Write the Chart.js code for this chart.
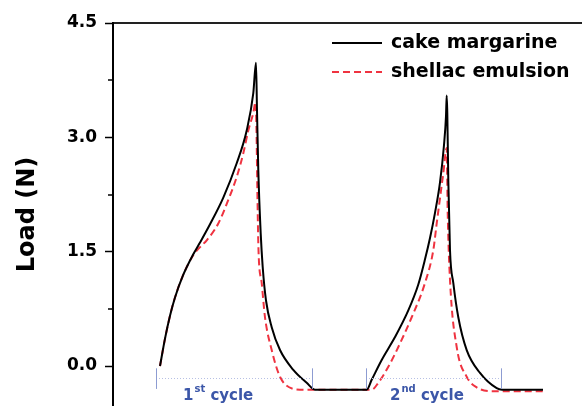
<!DOCTYPE html>
<html>
<head>
<meta charset="utf-8">
<script src="https://cdn.jsdelivr.net/npm/chart.js@4.4.0/dist/chart.umd.min.js"></script>
<style>
  html, body { margin: 0; padding: 0; background: #fff; }
  #wrap { width: 582px; height: 406px; position: relative; }
</style>
</head>
<body>
<div id="wrap"><canvas id="load-chart"></canvas></div>
<script>
// time axis is hidden in the figure, units are arbitrary
const timeMargarine = [4.70, 5.20, 5.70, 6.20, 7.00, 8.00, 8.70, 9.70, 11.03, 12.37, 13.37, 14.03, 14.30,
    14.40, 14.53, 14.77, 14.97, 15.30, 15.87, 16.70, 18.03, 19.37, 20.20, 22.70, 25.37,
    25.87, 26.87, 28.20, 29.53, 30.53, 31.20, 31.70, 32.20, 32.70, 33.10, 33.30, 33.37,
    33.43, 33.53, 33.70, 34.03, 34.53, 35.37, 36.70, 38.37, 38.90, 43.00];
const loadMargarine = [0.00, 0.36, 0.66, 0.90, 1.19, 1.46, 1.62, 1.86, 2.21, 2.66, 3.09, 3.58, 3.98,
    3.36, 2.57, 1.74, 1.30, 0.86, 0.51, 0.21, -0.05, -0.22, -0.31, -0.31, -0.31,
    -0.18, 0.08, 0.38, 0.73, 1.07, 1.40, 1.68, 2.01, 2.41, 2.90, 3.28, 3.55,
    3.32, 2.44, 1.52, 1.09, 0.64, 0.21, -0.09, -0.29, -0.31, -0.31];

const timeShellac = [4.70, 5.20, 5.70, 6.20, 7.00, 8.00, 8.70, 9.37, 10.53, 11.53, 12.37, 13.03, 13.53, 14.03, 14.25,
    14.35, 14.43, 14.55, 14.87, 15.20, 15.87, 16.70, 18.00, 18.70, 25.87,
    26.53, 27.53, 28.53, 29.87, 31.20, 32.03, 32.37, 33.03, 33.37,
    33.47, 33.70, 34.37, 35.37, 36.37, 38.00, 43.00];
const loadShellac = [0.00, 0.36, 0.66, 0.90, 1.19, 1.45, 1.56, 1.65, 1.87, 2.18, 2.48, 2.79, 3.09, 3.32, 3.46,
    3.09, 2.35, 1.52, 1.09, 0.64, 0.21, -0.14, -0.30, -0.31, -0.31,
    -0.22, -0.01, 0.25, 0.64, 1.09, 1.52, 1.87, 2.53, 2.86,
    2.01, 1.13, 0.25, -0.14, -0.28, -0.33, -0.33];

const seriesNames = ['cake margarine', 'shellac emulsion'];
const loadTicks = [0, 0.75, 1.5, 2.25, 3.0, 3.75, 4.5];

// cycle brackets drawn under the curves
const cycleStart = [4.3, 25.3];
const cycleEnd = [19.9, 38.8];
const cycleTextAt = [7.0, 27.7];
const cycleLabels = ['1', '2'];
const cycleSup = ['st', 'nd'];

const blue = '#3b56a8';
const red = '#ef3340';
const font = 'DejaVu Sans';

const toPoints = (xs, ys) => xs.map((x, i) => ({ x: x, y: ys[i] }));

const extrasPlugin = {
    id: 'extras',
    afterDatasetsDraw(chart) {
        const ctx = chart.ctx;
        const xs = chart.scales.x;
        const ys = chart.scales.y;

        // minor ticks
        ctx.save();
        ctx.strokeStyle = '#000';
        ctx.lineWidth = 1.5;
        loadTicks.filter((v, i) => i % 2 === 1).forEach(v => {
            const py = Math.round(ys.getPixelForValue(v));
            ctx.beginPath();
            ctx.moveTo(ys.right - 5, py);
            ctx.lineTo(ys.right, py);
            ctx.stroke();
        });
        ctx.restore();

        // cycle markers
        ctx.save();
        const yDot = ys.getPixelForValue(-0.16);
        cycleStart.forEach((s, i) => {
            const x0 = xs.getPixelForValue(s);
            const x1 = xs.getPixelForValue(cycleEnd[i]);
            ctx.strokeStyle = '#8d9cd2';
            ctx.lineWidth = 1;
            ctx.setLineDash([]);
            [x0, x1].forEach(px => {
                ctx.beginPath();
                ctx.moveTo(Math.round(px) + 0.5, ys.getPixelForValue(-0.03));
                ctx.lineTo(Math.round(px) + 0.5, ys.getPixelForValue(-0.30));
                ctx.stroke();
            });
            ctx.strokeStyle = '#b7c0e4';
            ctx.setLineDash([1, 2]);
            ctx.beginPath();
            ctx.moveTo(x0 + 3, Math.round(yDot) + 0.5);
            ctx.lineTo(x1, Math.round(yDot) + 0.5);
            ctx.stroke();

            // label like 1st cycle
            ctx.setLineDash([]);
            ctx.fillStyle = blue;
            ctx.textBaseline = 'alphabetic';
            ctx.textAlign = 'left';
            const big = 'bold 15px "' + font + '"';
            const small = 'bold 10px "' + font + '"';
            let tx = xs.getPixelForValue(cycleTextAt[i]);
            const base = 400;
            ctx.font = big;
            ctx.fillText(cycleLabels[i], tx, base);
            tx += ctx.measureText(cycleLabels[i]).width + 1;
            ctx.font = small;
            ctx.fillText(cycleSup[i], tx, base - 8);
            tx += ctx.measureText(cycleSup[i]).width;
            ctx.font = big;
            ctx.fillText(' cycle', tx, base);
        });
        ctx.restore();

        // legend
        ctx.save();
        chart.data.datasets.forEach((ds, i) => {
            const ly = 43 + i * 29;
            ctx.strokeStyle = ds.borderColor;
            ctx.lineWidth = 2;
            ctx.setLineDash(ds.borderDash || []);
            ctx.beginPath();
            ctx.moveTo(332, ly);
            ctx.lineTo(382, ly);
            ctx.stroke();
            ctx.setLineDash([]);
            ctx.fillStyle = '#000';
            ctx.font = 'bold 19px "' + font + '"';
            ctx.textBaseline = 'middle';
            ctx.textAlign = 'left';
            ctx.fillText(ds.label, 391, ly);
        });
        ctx.restore();
    }
};

new Chart(document.getElementById('load-chart'), {
    type: 'line',
    data: {
        datasets: [{
            label: seriesNames[0],
            data: toPoints(timeMargarine, loadMargarine),
            borderColor: '#000',
            borderWidth: 2,
            pointRadius: 0,
            cubicInterpolationMode: 'monotone',
            fill: false
        }, {
            label: seriesNames[1],
            data: toPoints(timeShellac, loadShellac),
            borderColor: red,
            borderWidth: 2,
            borderDash: [7, 4],
            pointRadius: 0,
            cubicInterpolationMode: 'monotone',
            fill: false
        }]
    },
    plugins: [extrasPlugin],
    options: {
        responsive: true,
        maintainAspectRatio: false,
        animation: false,
        layout: { padding: { top: 23, right: 0, bottom: 0, left: 0 } },
        plugins: {
            legend: { display: false },
            tooltip: { enabled: false }
        },
        scales: {
            x: {
                type: 'linear',
                position: 'top',
                min: 0,
                max: 46.9,
                ticks: { display: false },
                grid: { display: false },
                border: { display: true, color: '#222', width: 2 },
                afterFit: s => {
                    s.height = 0;
                    s.paddingLeft = 0; s.paddingRight = 0; s.paddingTop = 0; s.paddingBottom = 0;
                }
            },
            y: {
                min: -0.524,
                max: 4.5,
                afterBuildTicks: s => { s.ticks = loadTicks.map(v => ({ value: v })); },
                afterFit: s => {
                    s.width = 113;
                    s.paddingTop = 0; s.paddingBottom = 0;
                },
                ticks: {
                    autoSkip: false,
                    padding: 8,
                    color: '#000',
                    font: { family: font, weight: 'bold', size: 17 },
                    callback: (v, i) => (i % 2 === 0 ? v.toFixed(1) : '')
                },
                grid: {
                    drawOnChartArea: false,
                    tickLength: 8,
                    tickWidth: 1.5,
                    tickColor: ctx => (ctx.index % 2 === 0 ? '#000' : 'rgba(0,0,0,0)')
                },
                border: { display: true, color: '#000', width: 2 },
                title: {
                    display: true,
                    text: 'Load (N)',
                    color: '#000',
                    font: { family: font, weight: 'bold', size: 24 },
                    padding: { top: 13, bottom: 0 }
                }
            }
        }
    }
});
</script>
</body>
</html>
